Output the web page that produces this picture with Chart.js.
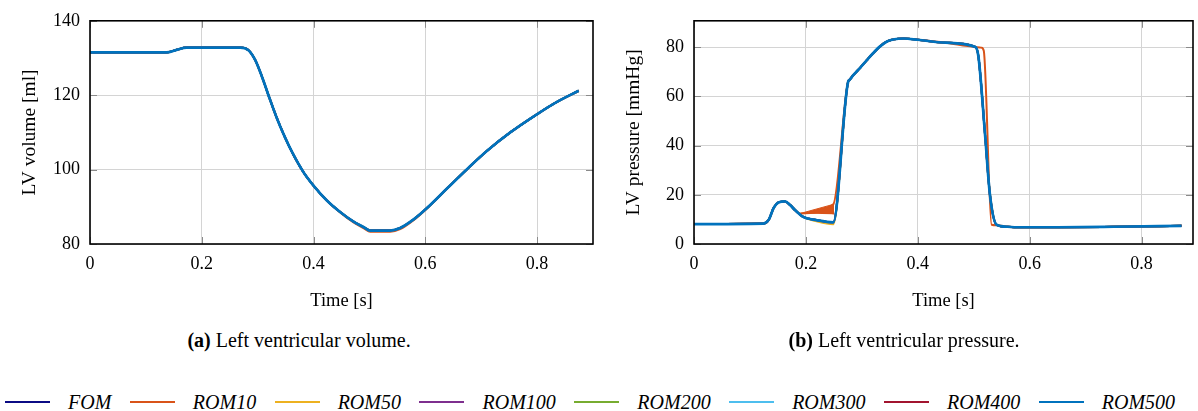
<!DOCTYPE html>
<html>
<head>
<meta charset="utf-8">
<title>LV volume and pressure</title>
<script src="https://cdn.jsdelivr.net/npm/chart.js@4.4.1/dist/chart.umd.min.js"></script>
<style>
    body {
        margin: 0;
        width: 1198px;
        height: 411px;
        background: #fff;
        overflow: hidden;
        position: relative;
        font-family: 'Liberation Serif', 'Times New Roman', serif;
        color: #000;
    }
    canvas { position: absolute; top: 0; }
    #volumeChart { left: 0; }
    #pressureChart { left: 598px; }
    .caption {
        position: absolute;
        top: 329px;
        font-size: 20px;
        line-height: 22px;
        text-align: center;
        white-space: nowrap;
    }
    #legend {
        position: absolute;
        top: 391px;
        left: 5px;
        display: flex;
        align-items: center;
        font-size: 20px;
        line-height: 22px;
        font-style: italic;
        white-space: nowrap;
    }
    .legend-line { width: 45px; height: 2px; margin-right: 18px; }
    .legend-text { margin-right: 18.5px; }
</style>
</head>
<body>
<canvas id="volumeChart" width="600" height="320"></canvas>
<canvas id="pressureChart" width="600" height="320"></canvas>
<div class="caption" style="left: 0; width: 598px;"><b>(a)</b> Left ventricular volume.</div>
<div class="caption" style="left: 610px; width: 588px;"><b>(b)</b> Left ventricular pressure.</div>
<div id="legend"></div>

<script>
const seriesNames = ['FOM', 'ROM10', 'ROM50', 'ROM100', 'ROM200', 'ROM300', 'ROM400', 'ROM500'];
const seriesColors = ['#0b0b84', '#d95319', '#edb120', '#7e2f8e', '#77ac30', '#4dbeee', '#a2142f', '#0072bd'];

const timeTicks = [0, 0.2, 0.4, 0.6, 0.8];
const volumeTicks = [80, 100, 120, 140];
const pressureTicks = [0, 20, 40, 60, 80];

// LV volume [ml] – all models sit on top of each other, ROM10 dips a hair lower at end-systole
const volTime = [0, 0.137, 0.155, 0.173, 0.269, 0.2835, 0.2955, 0.3074, 0.3193, 0.3342,
    0.3491, 0.364, 0.382, 0.401, 0.4238, 0.4476, 0.4715, 0.49, 0.5013, 0.537,
    0.555, 0.579, 0.601, 0.6387, 0.6745, 0.710, 0.752, 0.801, 0.8356, 0.8744];
const volFom = [131.5, 131.5, 132.2, 132.8, 132.8, 132.1, 129.5, 125.1, 120.0, 113.9,
    108.6, 104.0, 99.3, 95.5, 91.7, 88.6, 86.0, 84.5, 83.6, 83.6,
    84.3, 86.6, 89.4, 94.9, 100.1, 105.0, 110.0, 115.0, 118.2, 121.2];
const volRom10 = [131.5, 131.5, 132.2, 132.8, 132.8, 132.1, 129.5, 125.1, 120.0, 113.9,
    108.6, 104.0, 99.3, 95.5, 91.7, 88.5, 85.8, 84.2, 83.3, 83.3,
    84.0, 86.4, 89.3, 94.9, 100.1, 105.0, 110.0, 115.0, 118.2, 121.1];

// LV pressure [mmHg]
const presTime = [0, 0.124, 0.134, 0.142, 0.152, 0.1626, 0.172, 0.1805, 0.1953, 0.219,
    0.249, 0.2757, 0.2775, 0.2847, 0.297, 0.3086, 0.32, 0.332, 0.345, 0.358,
    0.375, 0.4, 0.45, 0.503, 0.5085, 0.5204, 0.529, 0.541, 0.56, 0.5766,
    0.65, 0.75, 0.8715];
const presFom = [8.1, 8.3, 10.0, 14.5, 17.0, 17.3, 15.8, 13.8, 11.0, 9.7,
    8.8, 66.1, 66.6, 68.6, 71.6, 74.6, 77.5, 80.2, 82.3, 83.2,
    83.5, 83.0, 81.8, 80.1, 76.1, 44.1, 20.1, 7.8, 7.0, 6.8,
    6.8, 7.0, 7.4];
const presRom50 = [8.1, 8.3, 10.0, 14.5, 17.0, 17.3, 15.8, 13.8, 11.0, 9.2,
    8.0, 66.1, 66.6, 68.6, 71.6, 74.6, 77.5, 80.2, 82.3, 83.2,
    83.5, 83.0, 81.8, 80.1, 76.1, 44.5, 20.6, 7.8, 7.0, 6.8,
    6.8, 7.0, 7.4];
const presRom10Time = [0, 0.124, 0.134, 0.142, 0.152, 0.1626, 0.172, 0.1805, 0.19, 0.249,
    0.2757, 0.2775, 0.2847, 0.297, 0.3086, 0.32, 0.332, 0.345, 0.358, 0.375,
    0.4, 0.45, 0.503, 0.514, 0.518, 0.532, 0.541, 0.56, 0.5766, 0.65,
    0.75, 0.8715];
const presRom10 = [8.1, 8.3, 10.0, 14.5, 17.0, 17.3, 15.8, 13.8, 12.4, 16.1,
    66.1, 66.6, 68.6, 71.6, 74.6, 77.5, 80.2, 82.3, 83.2, 83.5,
    83.0, 81.8, 80.1, 79.8, 78.5, 7.8, 7.6, 7.0, 6.8, 6.8,
    7.0, 7.4];
// ROM10 oscillates during the filling plateau: drawn as a filled band
const rom10BandTime = [0.19, 0.249, 0.249];
const rom10BandPres = [12.4, 16.1, 12.1];

const volumeSeries = [volFom, volRom10, volFom, volFom, volFom, volFom, volFom, volFom];
const pressureSeries = [presFom, presRom10, presRom50, presFom, presFom, presFom, presFom, presFom];
const pressureTimes = [presTime, presRom10Time, presTime, presTime, presTime, presTime, presTime, presTime];

Chart.defaults.font.family = "'Liberation Serif', 'Times New Roman', serif";
Chart.defaults.font.size = 18;
Chart.defaults.color = '#000';

function toPoints(times, values) {
    return times.map((t, i) => ({ x: t, y: values[i] }));
}

// pgfplots look: inner tick marks and a full black frame round the plot
const plotFrame = {
    id: 'plotFrame',
    beforeDatasetsDraw(chart) {
        const { ctx, chartArea: a, scales: { x, y } } = chart;
        ctx.save();
        ctx.strokeStyle = '#8a8a8a';
        ctx.lineWidth = 1;
        ctx.beginPath();
        x.ticks.forEach(t => {
            const px = Math.round(x.getPixelForValue(t.value)) + 0.5;
            ctx.moveTo(px, a.bottom); ctx.lineTo(px, a.bottom - 7);
            ctx.moveTo(px, a.top); ctx.lineTo(px, a.top + 7);
        });
        y.ticks.forEach(t => {
            const py = Math.round(y.getPixelForValue(t.value)) + 0.5;
            ctx.moveTo(a.left, py); ctx.lineTo(a.left + 7, py);
            ctx.moveTo(a.right, py); ctx.lineTo(a.right - 7, py);
        });
        ctx.stroke();
        ctx.restore();
    },
    afterDraw(chart) {
        const { ctx, chartArea: a } = chart;
        ctx.save();
        ctx.strokeStyle = '#000';
        ctx.lineWidth = 1.6;
        ctx.strokeRect(a.left, a.top, a.right - a.left, a.bottom - a.top);
        ctx.restore();
    }
};

function lineDatasets(timesList, valuesList) {
    return seriesNames.map((name, i) => ({
        label: name,
        data: toPoints(timesList[i], valuesList[i]),
        borderColor: seriesColors[i],
        borderWidth: i === seriesNames.length - 1 ? 2.7 : 2,
        pointRadius: 0,
        fill: false,
        cubicInterpolationMode: 'monotone',
        order: seriesNames.length - i
    }));
}

function createPlot(canvasId, cfg) {
    const canvas = document.getElementById(canvasId);
    new Chart(canvas.getContext('2d'), {
        type: 'line',
        data: { datasets: cfg.datasets },
        options: {
            responsive: false,
            animation: false,
            events: [],
            layout: { padding: { top: 17, right: cfg.rightPad, left: 0, bottom: 0 } },
            plugins: { legend: { display: false }, tooltip: { enabled: false } },
            scales: {
                x: {
                    type: 'linear',
                    min: 0,
                    max: cfg.xMax,
                    afterBuildTicks: s => { s.ticks = timeTicks.map(v => ({ value: v })); },
                    afterFit: s => { s.height = 76; },
                    grid: { color: '#d4d4d4', lineWidth: 1, drawTicks: false },
                    border: { display: false },
                    ticks: { padding: 9, maxRotation: 0, callback: v => String(v) },
                    title: { display: true, text: 'Time [s]', font: { size: 18.5 }, padding: { top: 0, bottom: 8 } }
                },
                y: {
                    type: 'linear',
                    min: cfg.yMin,
                    max: cfg.yMax,
                    afterBuildTicks: s => { s.ticks = cfg.yTicks.map(v => ({ value: v })); },
                    afterFit: s => { s.width = cfg.yAxisWidth; },
                    grid: { color: '#d4d4d4', lineWidth: 1, drawTicks: false },
                    border: { display: false },
                    ticks: { padding: 10, callback: v => String(v) },
                    title: { display: true, text: cfg.yTitle, font: { size: 19.5 }, padding: { top: cfg.yTitlePad, bottom: 0 } }
                }
            }
        },
        plugins: [plotFrame]
    });
}

createPlot('volumeChart', {
    datasets: lineDatasets(seriesNames.map(() => volTime), volumeSeries),
    xMax: 0.9, yMin: 80, yMax: 140, yTicks: volumeTicks,
    yAxisWidth: 90, rightPad: 7, yTitle: 'LV volume [ml]', yTitlePad: 18
});

const pressureDatasets = lineDatasets(pressureTimes, pressureSeries);
pressureDatasets.push({
    label: 'ROM10 band',
    data: toPoints(rom10BandTime, rom10BandPres),
    borderColor: seriesColors[1],
    backgroundColor: seriesColors[1],
    borderWidth: 1,
    pointRadius: 0,
    tension: 0,
    fill: 'shape',
    order: seriesNames.length - 1.5
});

createPlot('pressureChart', {
    datasets: pressureDatasets,
    xMax: 0.892, yMin: 0, yMax: 90.7, yTicks: pressureTicks,
    yAxisWidth: 96, rightPad: 5, yTitle: 'LV pressure [mmHg]', yTitlePad: 24
});

// legend below both panels
const legend = document.getElementById('legend');
seriesNames.forEach((name, i) => {
    const line = document.createElement('span');
    line.className = 'legend-line';
    line.style.background = seriesColors[i];
    const text = document.createElement('span');
    text.className = 'legend-text';
    text.textContent = name;
    legend.appendChild(line);
    legend.appendChild(text);
});
</script>
</body>
</html>
